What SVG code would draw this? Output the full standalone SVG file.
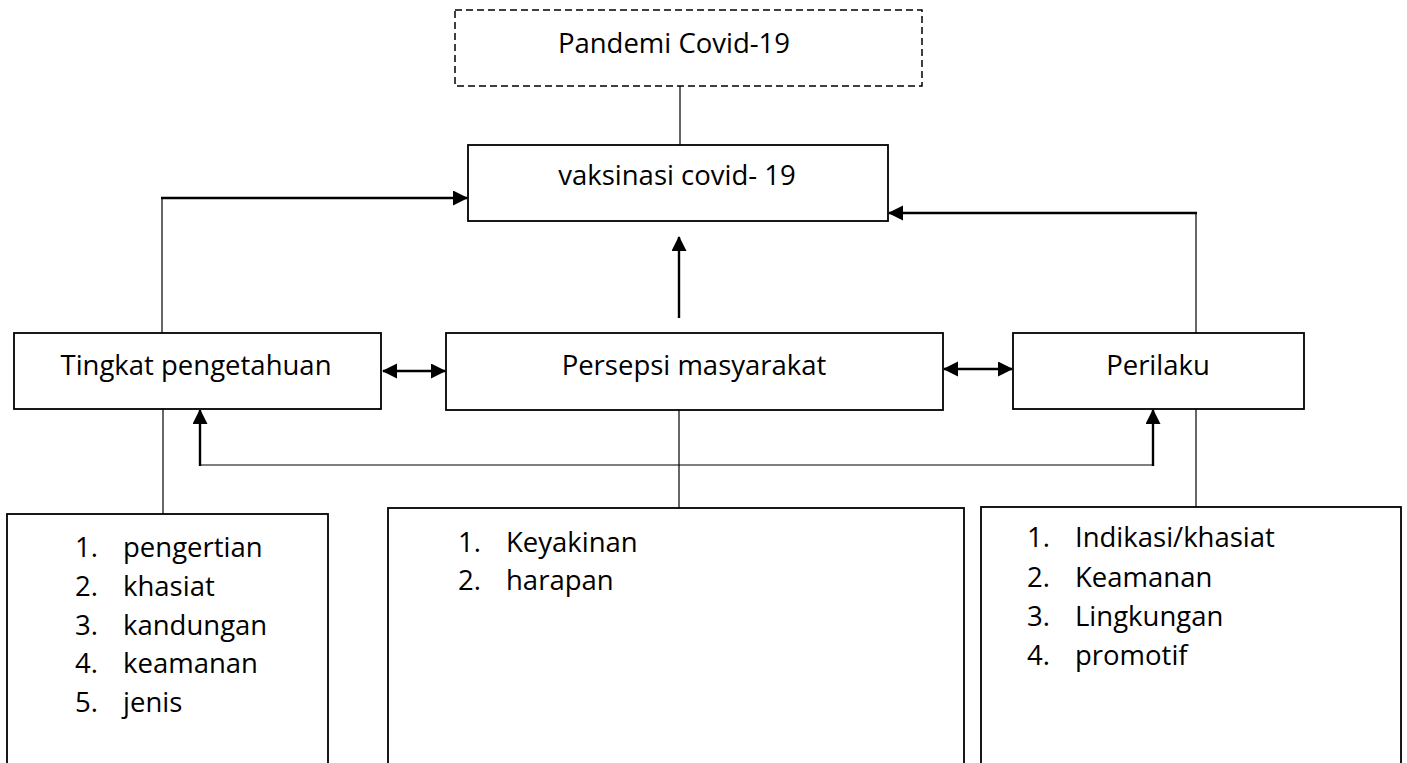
<svg xmlns="http://www.w3.org/2000/svg" width="1407" height="763" viewBox="0 0 1407 763">
<style>
  .box { fill: #fff; stroke: #000; stroke-width: 1.8; }
  .dash { fill: #fff; stroke: #000; stroke-width: 1.5; stroke-dasharray: 7 4; }
  .lbl { font-family: "Open Sans", "Liberation Sans", sans-serif; font-size: 27.5px; fill: #000; }
  .mid { text-anchor: middle; }
  .thin { fill: none; stroke: #000; stroke-width: 1.2; }
  .thick { fill: none; stroke: #000; stroke-width: 2.4; }
</style>
<defs>
  <marker id="ah" markerUnits="userSpaceOnUse" markerWidth="16" markerHeight="16" refX="14" refY="7.5" orient="auto-start-reverse">
    <path d="M0,0 L15,7.5 L0,15 z" fill="#000"/>
  </marker>
</defs>
<rect width="1407" height="763" fill="#fff"/>

<g id="connectors">
  <line class="thin" x1="680" y1="86" x2="680" y2="145"/>
  <line class="thin" x1="162" y1="333" x2="162" y2="198"/>
  <line class="thick" x1="161" y1="198" x2="467" y2="198" marker-end="url(#ah)"/>
  <line class="thin" x1="1196" y1="333" x2="1196" y2="213"/>
  <line class="thick" x1="1197" y1="213" x2="889" y2="213" marker-end="url(#ah)"/>
  <line class="thick" x1="679" y1="318" x2="679" y2="237" marker-end="url(#ah)"/>
  <line class="thick" x1="383" y1="371" x2="445" y2="371" marker-start="url(#ah)" marker-end="url(#ah)"/>
  <line class="thick" x1="944" y1="369" x2="1012" y2="369" marker-start="url(#ah)" marker-end="url(#ah)"/>
  <line class="thick" x1="200" y1="466" x2="200" y2="410" marker-end="url(#ah)"/>
  <line class="thin" x1="200" y1="465" x2="1153" y2="465"/>
  <line class="thick" x1="1153" y1="466" x2="1153" y2="410" marker-end="url(#ah)"/>
  <line class="thin" x1="163" y1="409" x2="163" y2="514"/>
  <line class="thin" x1="679" y1="410" x2="679" y2="508"/>
  <line class="thin" x1="1196" y1="409" x2="1196" y2="507"/>
</g>

<g id="pandemi">
  <rect class="dash" x="455" y="10" width="467" height="76"/>
  <text class="lbl mid" x="674" y="53">Pandemi Covid-19</text>
</g>

<g id="vaksinasi">
  <rect class="box" x="468" y="145" width="420" height="76"/>
  <text class="lbl mid" x="677" y="185">vaksinasi covid- 19</text>
</g>

<g id="tingkat">
  <rect class="box" x="14" y="333" width="367" height="76"/>
  <text class="lbl mid" x="196" y="375">Tingkat pengetahuan</text>
</g>

<g id="persepsi">
  <rect class="box" x="446" y="333" width="497" height="77"/>
  <text class="lbl mid" x="694" y="375">Persepsi masyarakat</text>
</g>

<g id="perilaku">
  <rect class="box" x="1013" y="333" width="291" height="76"/>
  <text class="lbl mid" x="1158" y="375">Perilaku</text>
</g>

<g id="list-tingkat">
  <rect class="box" x="7" y="514" width="321" height="270"/>
  <text class="lbl" x="75" y="557">1.</text><text class="lbl" x="123" y="557">pengertian</text>
  <text class="lbl" x="75" y="596">2.</text><text class="lbl" x="123" y="596">khasiat</text>
  <text class="lbl" x="75" y="634.5">3.</text><text class="lbl" x="123" y="634.5">kandungan</text>
  <text class="lbl" x="75" y="673">4.</text><text class="lbl" x="123" y="673">keamanan</text>
  <text class="lbl" x="75" y="712">5.</text><text class="lbl" x="123" y="712">jenis</text>
</g>

<g id="list-persepsi">
  <rect class="box" x="388" y="508" width="576" height="276"/>
  <text class="lbl" x="458" y="552">1.</text><text class="lbl" x="506" y="552">Keyakinan</text>
  <text class="lbl" x="458" y="590">2.</text><text class="lbl" x="506" y="590">harapan</text>
</g>

<g id="list-perilaku">
  <rect class="box" x="981" y="507" width="420" height="277"/>
  <text class="lbl" x="1027" y="547">1.</text><text class="lbl" x="1075" y="547">Indikasi/khasiat</text>
  <text class="lbl" x="1027" y="586.5">2.</text><text class="lbl" x="1075" y="586.5">Keamanan</text>
  <text class="lbl" x="1027" y="625.5">3.</text><text class="lbl" x="1075" y="625.5">Lingkungan</text>
  <text class="lbl" x="1027" y="664.5">4.</text><text class="lbl" x="1075" y="664.5">promotif</text>
</g>
</svg>
